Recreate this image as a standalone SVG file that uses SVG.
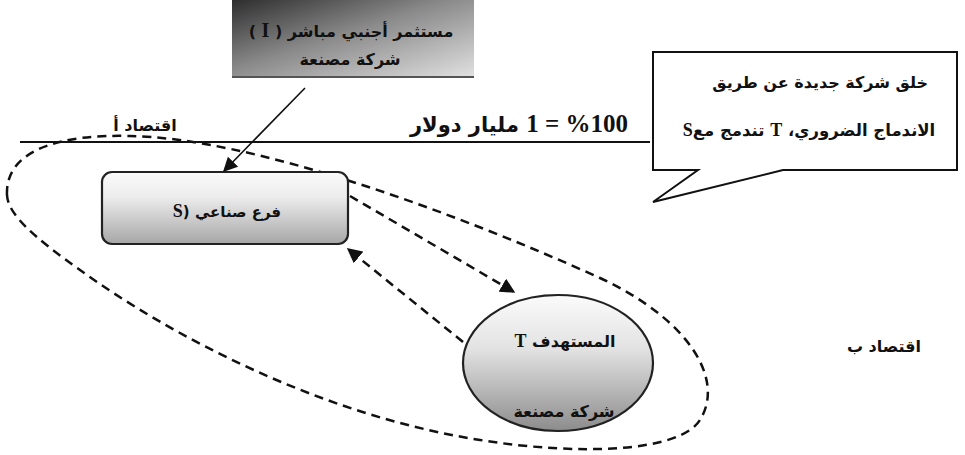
<svg xmlns="http://www.w3.org/2000/svg" width="965" height="455" viewBox="0 0 965 455">
<style>
.ar{font-family:"DejaVu Sans","Noto Sans",sans-serif;font-weight:bold;fill:#111;direction:rtl;}
.num{font-family:"Liberation Serif","DejaVu Serif",serif;font-weight:bold;}
.dash{fill:none;stroke:#111;stroke-width:2.5;stroke-dasharray:9 6;}
.solid{fill:none;stroke:#111;stroke-width:1.6;}
</style>
<defs>
<linearGradient id="gTop" x1="0" y1="0" x2="1" y2="1">
<stop offset="0" stop-color="#2e2e2e"/>
<stop offset="0.45" stop-color="#8a8a8a"/>
<stop offset="1" stop-color="#e2e2e2"/>
</linearGradient>
<linearGradient id="gS" x1="0" y1="0" x2="0" y2="1">
<stop offset="0" stop-color="#fafafa"/>
<stop offset="0.35" stop-color="#ececec"/>
<stop offset="1" stop-color="#a6a6a6"/>
</linearGradient>
<linearGradient id="gT" x1="0" y1="0" x2="0" y2="1">
<stop offset="0" stop-color="#fbfbfb"/>
<stop offset="0.4" stop-color="#e2e2e2"/>
<stop offset="1" stop-color="#8c8c8c"/>
</linearGradient>
<marker id="ah" viewBox="0 0 10 10" refX="9" refY="5" markerWidth="9" markerHeight="9" markerUnits="strokeWidth" orient="auto">
<path d="M0,0 L10,5 L0,10 Z" fill="#111"/>
</marker>
<marker id="ahd" viewBox="0 0 10 10" refX="9" refY="5" markerWidth="6" markerHeight="6" markerUnits="strokeWidth" orient="auto">
<path d="M0,0 L10,5 L0,10 Z" fill="#111"/>
</marker>
</defs>
<rect width="965" height="455" fill="#fff"/>

<g id="economy-a">
<line x1="20" y1="142" x2="650" y2="142" stroke="#111" stroke-width="2"/>
<text class="ar" x="145" y="131" font-size="16" text-anchor="middle">اقتصاد أ</text>
<text class="ar" x="628" y="132" font-size="21" text-anchor="start"><tspan class="num" font-size="25">%100 = 1</tspan> مليار دولار</text>
</g>

<g id="economy-b">
<text class="ar" x="884" y="352" font-size="16" text-anchor="middle">اقتصاد ب</text>
</g>

<g id="boundary">
<path class="dash" d="M7,195 C5,150 60,134 130,136 C250,138 450,210 600,278 C690,320 725,380 700,420 C680,452 580,456 480,440 C320,415 170,335 80,270 C35,238 8,215 7,195 Z"/>
</g>

<g id="investor">
<rect x="232" y="0" width="242" height="78" fill="url(#gTop)"/>
<line x1="232" y1="77" x2="474" y2="77" stroke="#555" stroke-width="2"/>
<text class="ar" x="351" y="37" font-size="16" text-anchor="middle">مستثمر أجنبي مباشر ( <tspan class="num" font-size="20">I</tspan> )</text>
<text class="ar" x="350" y="65" font-size="16" text-anchor="middle">شركة مصنعة</text>
</g>

<g id="callout">
<path d="M653,52 L957,52 L957,170 L783,170 L653,202 L698,170 L653,170 Z" fill="#fff" stroke="#111" stroke-width="2"/>
<text class="ar" x="928" y="88" font-size="16" text-anchor="start">خلق شركة جديدة عن طريق</text>
<text class="ar" x="809" y="136" font-size="16.5" text-anchor="middle">الاندماج الضروري، <tspan class="num" font-size="18">T</tspan> تندمج مع<tspan class="num" font-size="18">S</tspan></text>
</g>

<g id="subsidiary-S">
<rect x="102" y="172" width="246" height="72" rx="10" ry="10" fill="url(#gS)" stroke="#222" stroke-width="2.2"/>
<text class="ar" x="227" y="217" font-size="15" text-anchor="middle">فرع صناعي (<tspan class="num" font-size="18">S</tspan></text>
</g>

<g id="target-T">
<ellipse cx="558" cy="363" rx="95" ry="68" fill="url(#gT)" stroke="#222" stroke-width="2.2"/>
<text class="ar" x="565" y="347" font-size="16" text-anchor="middle">المستهدف <tspan class="num" font-size="18">T</tspan></text>
<text class="ar" x="564" y="417" font-size="16" text-anchor="middle">شركة مصنعة</text>
</g>

<g id="connectors">
<line class="solid" x1="305" y1="88" x2="224" y2="171" marker-end="url(#ah)"/>
<line class="dash" x1="350" y1="196" x2="514" y2="292" marker-end="url(#ahd)"/>
<line class="dash" x1="463" y1="342" x2="348" y2="249" marker-end="url(#ahd)"/>
</g>
</svg>
